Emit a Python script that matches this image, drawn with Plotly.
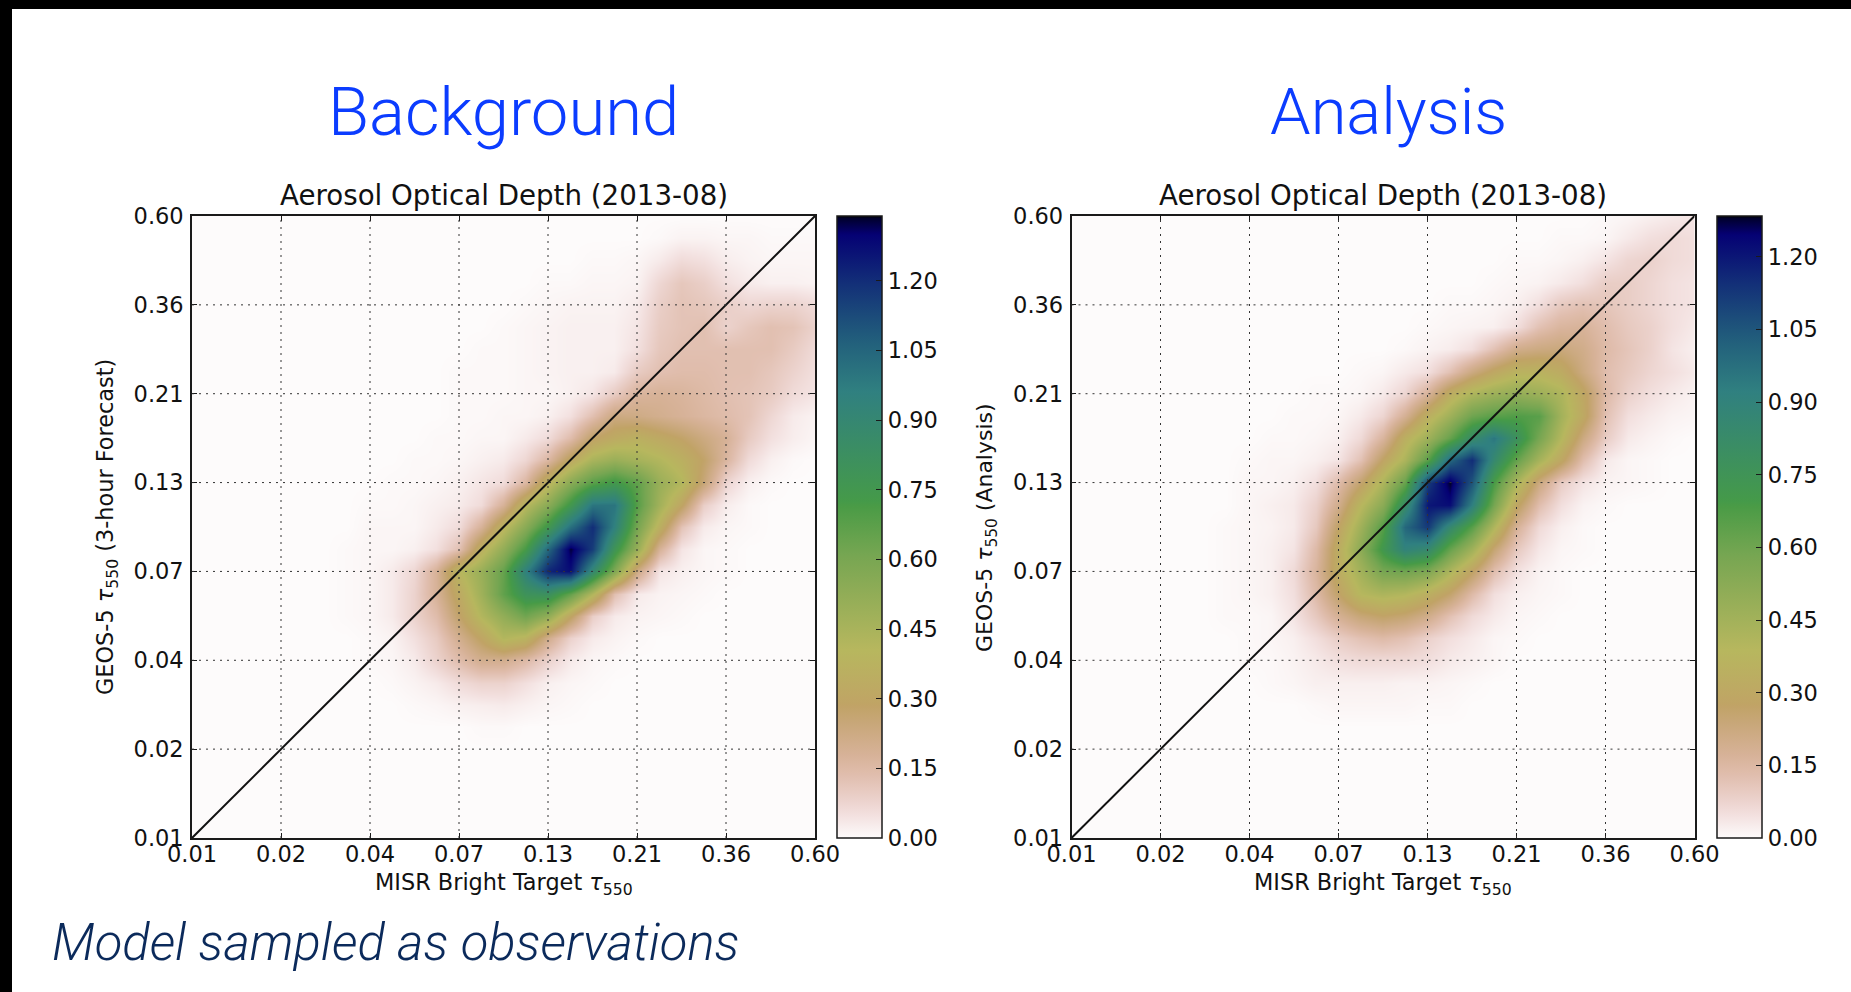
import numpy as np
import plotly.graph_objects as go

W, H = 1851, 992

TICK_POS = [0, 1, 2, 3, 4, 5, 6, 7]
TICK_LABELS = ["0.01", "0.02", "0.04", "0.07", "0.13", "0.21", "0.36", "0.60"]
DIAGONAL = [0, 7]
CBAR_TICKS = [0.0, 0.15, 0.30, 0.45, 0.60, 0.75, 0.90, 1.05, 1.20]
CBAR_LABELS = ["0.00", "0.15", "0.30", "0.45", "0.60", "0.75", "0.90", "1.05", "1.20"]
ZMAX_LEFT = 1.34
ZMAX_RIGHT = 1.284

# density, in hundredths, on grid positions between axis ticks
GRID_X = [1.5, 1.75, 2, 2.25, 2.5, 2.75, 3, 3.25, 3.5, 3.75, 4, 4.25, 4.5, 4.75, 5, 5.25, 5.5, 5.75, 6, 6.25, 6.5, 6.75, 7]
GRID_Y = [1, 1.25, 1.5, 1.75, 2, 2.25, 2.5, 2.75, 3, 3.25, 3.5, 3.75, 4, 4.25, 4.5, 4.75, 5, 5.25, 5.5, 5.75, 6, 6.25, 6.5, 6.75, 7]

Z_BACKGROUND = [
    [0] * 23,
    [0, 0, 0, 0, 0, 0, 0, .5, .5] + [0] * 14,
    [0, 0, 0, 0, .5, 1, 2, 2.5, 3, 2, 1, .5] + [0] * 11,
    [0, 0, 0, .5, 1.5, 3, 6, 8, 8, 5, 2, 1, .5] + [0] * 10,
    [0, 0, .5, 1, 3, 8, 14, 20, 20, 15, 8, 3, 1, .5] + [0] * 9,
    [0, 0, .5, 1.5, 5, 10, 20, 30, 42, 38, 20, 8, 3, 1.5, .5] + [0] * 8,
    [0, .5, 1, 3, 8, 14, 28, 42, 52, 62, 52, 30, 9, 3, 1.5, 1, .5] + [0] * 6,
    [0, .5, 1, 3, 8, 18, 33, 48, 66, 80, 82, 65, 42, 13, 3, 1.5, 1, .5] + [0] * 5,
    [0, .5, 1, 3, 7, 18, 40, 50, 65, 95, 122, 127, 90, 58, 22, 4, 2, 1, .5] + [0] * 4,
    [0, .5, 1, 1, 2, 5, 13, 36, 52, 72, 105, 133, 116, 78, 50, 18, 4, 1, .5] + [0] * 4,
    [0, 0, 1, 1, 1, 3, 6, 18, 38, 55, 76, 102, 120, 95, 60, 36, 12, 3, 1, .5, 0, 0, 0],
    [0, 0, .5, .5, 1, 2, 3, 6, 18, 40, 55, 75, 100, 100, 68, 47, 30, 9, 2.5, .5, 0, 0, 0],
    [0, 0, 0, .5, .5, 1, 2, 4, 6, 16, 38, 55, 68, 75, 66, 50, 42, 25, 7, 2, .5, 0, 0],
    [0, 0, 0, 0, .5, .5, 1, 2, 3, 7, 16, 32, 45, 50, 46, 42, 36, 28, 16, 6, 2, .5, 0],
    [0, 0, 0, 0, 0, .5, .5, 1, 1, 3, 6, 14, 28, 33, 36, 32, 28, 23, 18, 10, 5, 2.5, 1],
    [0, 0, 0, 0, 0, 0, .5, .5, 1, 1, 2, 5, 13, 23, 22, 20, 18, 16, 14, 12, 7, 3, 1.5],
    [0, 0, 0, 0, 0, 0, .5, .5, .5, 1, 1, 2, 4, 10, 17, 18, 17, 15, 13, 12, 10, 6, 4],
    [0, 0, 0, 0, 0, 0, .5, .5, .5, 1, 1.5, 2, 2, 3, 10, 13, 14, 14, 13, 13, 11, 8, 5],
    [0, 0, 0, 0, 0, 0, 0, .5, .5, 1, 1.5, 2, 2, 2, 5, 11, 13, 13, 13, 13, 13, 10, 6],
    [0, 0, 0, 0, 0, 0, 0, 0, .5, 1, 1.5, 2, 2, 2, 4, 10, 12, 13, 8, 11, 13, 12, 8],
    [0, 0, 0, 0, 0, 0, 0, 0, 0, .5, 1, 1.5, 1.5, 1.5, 3, 9, 12, 11, 9, 7, 8, 8, 6],
    [0, 0, 0, 0, 0, 0, 0, 0, 0, 0, .5, .5, 1, 1, 1.5, 7, 11, 9, 5, 3, 2, 2, 1.5],
    [0, 0, 0, 0, 0, 0, 0, 0, 0, 0, 0, 0, .5, .5, 1, 3, 6, 5, 2.5, 1.5, 1, 1, 1],
    [0, 0, 0, 0, 0, 0, 0, 0, 0, 0, 0, 0, 0, 0, 0, .5, 1.5, 1.5, 1, 1, .5, .5, .5],
    [0] * 23,
]

Z_ANALYSIS = [
    [0] * 23,
    [0] * 23,
    [0, 0, 0, 0, 0, .5, 1, 1, 1, 1, .5, .5] + [0] * 11,
    [0, 0, 0, .5, 1, 2, 2, 2, 2, 1.5, 1.5, 1, .5] + [0] * 10,
    [0, 0, .5, .5, 1.5, 3, 5, 6, 6, 6, 5, 3, 2, 1] + [0] * 9,
    [0, 0, .5, 1, 2, 5, 9, 12, 14, 12, 8, 5, 3, 1, .5] + [0] * 8,
    [0, .5, .5, 1, 4, 10, 18, 24, 27, 25, 20, 12, 6, 3, 1, .5] + [0] * 7,
    [0, .5, 1, 2, 5, 14, 27, 39, 42, 40, 34, 26, 14, 5, 2, 1, .5] + [0] * 6,
    [0, .5, 1, 2, 6, 16, 33, 45, 58, 60, 56, 42, 28, 13, 4.5, 1.5, .5] + [0] * 6,
    [0, .5, 1, 2, 4, 14, 33, 52, 72, 90, 85, 62, 46, 25, 10, 3.5, 1, .5] + [0] * 5,
    [0, .5, 1, 1.5, 3, 10, 28, 46, 66, 100, 112, 85, 65, 41, 17, 6, 2, .5] + [0] * 5,
    [0, 0, 1, 2, 3, 8, 20, 38, 52, 82, 120, 122, 92, 58, 29, 13, 5, 1.5, .5] + [0] * 4,
    [0, 0, 1, 1, 2, 5, 14, 26, 42, 62, 112, 128, 105, 68, 42, 22, 9, 4, 1.5, 1, .5, 0, 0],
    [0, 0, .5, 1, 1, 2, 4, 12, 28, 42, 65, 100, 115, 85, 62, 44, 30, 13, 3, 1, .5, 0, 0],
    [0, 0, 0, .5, .5, 1, 2, 6, 16, 34, 46, 62, 82, 95, 78, 58, 40, 22, 9, 3, 1.5, .5, 0],
    [0, 0, 0, 0, .5, .5, 1, 3, 7, 18, 34, 46, 60, 65, 67, 65, 45, 31, 12, 5, 3, 1.5, 1],
    [0, 0, 0, 0, 0, .5, .5, 1, 3, 7, 17, 33, 42, 47, 50, 47, 42, 30, 14, 8, 5, 3, 1.5],
    [0, 0, 0, 0, 0, 0, 0, .5, 1, 3, 5, 12, 22, 30, 36, 36, 32, 22, 13, 10, 7, 5, 3],
    [0, 0, 0, 0, 0, 0, 0, 0, 0, .5, 1.5, 2.5, 5, 12, 20, 22, 23, 20, 14, 11, 8, 4, 2],
    [0, 0, 0, 0, 0, 0, 0, 0, 0, 0, .5, 1, 1.5, 2, 5, 12, 16, 17, 13, 10, 8, 5, 3],
    [0, 0, 0, 0, 0, 0, 0, 0, 0, 0, 0, .5, .5, 1, 2, 5, 10, 12, 11, 9, 7, 5, 4],
    [0, 0, 0, 0, 0, 0, 0, 0, 0, 0, 0, 0, 0, .5, 1, 1.5, 3, 5, 9, 9, 7, 5, 4],
    [0, 0, 0, 0, 0, 0, 0, 0, 0, 0, 0, 0, 0, 0, .5, .5, 1, 2, 4, 7, 8, 6, 5],
    [0, 0, 0, 0, 0, 0, 0, 0, 0, 0, 0, 0, 0, 0, 0, 0, .5, .5, 1, 3, 5, 6, 5],
    [0, 0, 0, 0, 0, 0, 0, 0, 0, 0, 0, 0, 0, 0, 0, 0, 0, 0, .5, 1, 2, 3, 4],
]

for _grid in (Z_BACKGROUND, Z_ANALYSIS):
    assert len(_grid) == len(GRID_Y) and all(len(r) == len(GRID_X) for r in _grid)

# matplotlib gist_earth_r segment stops
SEG_R = [(0, 0), (.2824, .1882), (.4588, .2714), (.5490, .4719), (.6980, .7176), (.7882, .7553), (1, .9922)]
SEG_G = [(0, 0), (.0275, 0), (.1098, .1893), (.1647, .3035), (.2078, .3841), (.2824, .5020), (.5216, .6397),
         (.6980, .7171), (.7882, .6392), (.8157, .6549), (.8667, .6991), (.8980, .7430), (.9412, .8275),
         (.9647, .8816), (.9961, .9733), (1, .9843)]
SEG_B = [(0, 0), (.0039, .1684), (.0078, .2212), (.0275, .4329), (.0314, .4549), (.2824, .5004), (.4667, .2748),
         (.5451, .3205), (.7843, .3961), (.8941, .6651), (1, .9843)]
stops = sorted({p for seg in (SEG_R, SEG_G, SEG_B) for p, _ in seg})


def _col(t):
    vals = [np.interp(t, [p for p, _ in s], [v for _, v in s]) for s in (SEG_R, SEG_G, SEG_B)]
    return "rgb(%d,%d,%d)" % tuple(round(v * 255) for v in vals)


COLORSCALE = [[round(1 - t, 5), _col(t)] for t in reversed(stops)]
ZERO_COLOR = _col(1.0)

BORDER = "#1a1a1a"
TEXT = "#111111"
FONT = "DejaVu Sans"
TICK_SIZE = 22.5

# pixel layout
PANELS = [
    dict(x0=192, x1=815, cb0=836.5, cb1=881.5, z=Z_BACKGROUND, zmax=ZMAX_LEFT, head="Background", hx=503, hsize=67,
         ylabel="GEOS-5 <i>τ</i><sub>550</sub> (3-hour Forecast)", ylx=107, yly=527),
    dict(x0=1071.5, x1=1694.5, cb0=1716.5, cb1=1761.5, z=Z_ANALYSIS, zmax=ZMAX_RIGHT, head="Analysis", hx=1388, hsize=65,
         ylabel="GEOS-5 <i>τ</i><sub>550</sub> (Analysis)", ylx=986, yly=527),
]
Y_TOP, Y_BOT = 216, 838


def px(v):
    return v / W


def py(v):
    return 1 - v / H


fig = go.Figure()
layout = dict(
    width=W, height=H, margin=dict(l=0, r=0, t=0, b=0, pad=0, autoexpand=False),
    paper_bgcolor="white", plot_bgcolor=ZERO_COLOR,
    showlegend=False, font=dict(family=FONT, color=TEXT, size=TICK_SIZE),
)
shapes, annotations = [], []

for i, p in enumerate(PANELS):
    suffix = "" if i == 0 else "2"
    xname, yname = "x" + suffix, "y" + suffix
    fig.add_trace(go.Heatmap(
        x=GRID_X, y=GRID_Y, z=[[v / 100 for v in row] for row in p["z"]],
        xaxis=xname, yaxis=yname, zmin=0, zmax=p["zmax"], colorscale=COLORSCALE, zsmooth="best",
        hoverinfo="skip",
        colorbar=dict(
            x=px(p["cb0"]), xanchor="left", xpad=0, ypad=0, thicknessmode="pixels", thickness=p["cb1"] - p["cb0"],
            y=py(Y_BOT), yanchor="bottom", lenmode="fraction", len=(Y_BOT - Y_TOP) / H,
            tickvals=CBAR_TICKS, ticktext=CBAR_LABELS, ticks="inside", ticklen=6, tickcolor=BORDER, tickwidth=1,
            tickfont=dict(family=FONT, size=TICK_SIZE, color=TEXT), outlinecolor=BORDER, outlinewidth=1.5,
            borderwidth=0,
        ),
    ))
    fig.add_trace(go.Scatter(
        x=DIAGONAL, y=DIAGONAL, xaxis=xname, yaxis=yname, mode="lines",
        line=dict(color="#111111", width=2), hoverinfo="skip",
    ))
    axis = dict(
        range=[0, 7], tickvals=TICK_POS, ticktext=TICK_LABELS, ticks="inside", ticklen=5, tickwidth=1,
        tickcolor=BORDER, showgrid=False, zeroline=False, showline=True, linecolor=BORDER, linewidth=1.6,
        mirror="ticks", tickfont=dict(family=FONT, size=TICK_SIZE, color=TEXT), automargin=False,
    )
    layout["xaxis" + suffix] = dict(axis, domain=[px(p["x0"]), px(p["x1"])], anchor=yname, ticklabelstandoff=-5)
    layout["yaxis" + suffix] = dict(axis, domain=[py(Y_BOT), py(Y_TOP)], anchor=xname, ticklabelstandoff=2)

    for t in TICK_POS[1:-1]:
        grid = dict(type="line", layer="above", line=dict(color="#333333", width=1, dash="2px,5px"))
        shapes.append(dict(grid, xref=xname, yref=yname, x0=t, x1=t, y0=0, y1=7))
        shapes.append(dict(grid, xref=xname, yref=yname, x0=0, x1=7, y0=t, y1=t))

    cx = (p["x0"] + p["x1"]) / 2
    annotations += [
        dict(text=p["head"], x=px(p["hx"]), y=py(112), font=dict(family="Roboto", size=p["hsize"], color="#0b3cff", weight=300)),
        dict(text="Aerosol Optical Depth (2013-08)", x=px(cx), y=py(196), font=dict(family=FONT, size=27.7, color=TEXT)),
        dict(text="MISR Bright Target <i>τ</i><sub>550</sub>", x=px(cx), y=py(884), font=dict(family=FONT, size=22.4, color=TEXT)),
        dict(text=p["ylabel"], x=px(p["ylx"]), y=py(p["yly"]), textangle=-90, font=dict(family=FONT, size=22.4 if i == 0 else 22, color=TEXT)),
    ]

annotations.append(dict(text="<i>Model sampled as observations</i>", x=px(395), y=py(942),
                        font=dict(family="Roboto", size=50.8, color="#0b2a5b", weight=300)))
for a in annotations:
    a.update(xref="paper", yref="paper", showarrow=False, xanchor="center", yanchor="middle")

# black slide edges
shapes.append(dict(type="rect", xref="paper", yref="paper", x0=0, x1=1, y0=py(9), y1=1, fillcolor="black", line_width=0))
shapes.append(dict(type="rect", xref="paper", yref="paper", x0=0, x1=px(12), y0=0, y1=1, fillcolor="black", line_width=0))

fig.update_layout(shapes=shapes, annotations=annotations, **layout)
fig.write_html("out.html", config=dict(displayModeBar=False),
               post_script="document.body.style.margin='0';")
